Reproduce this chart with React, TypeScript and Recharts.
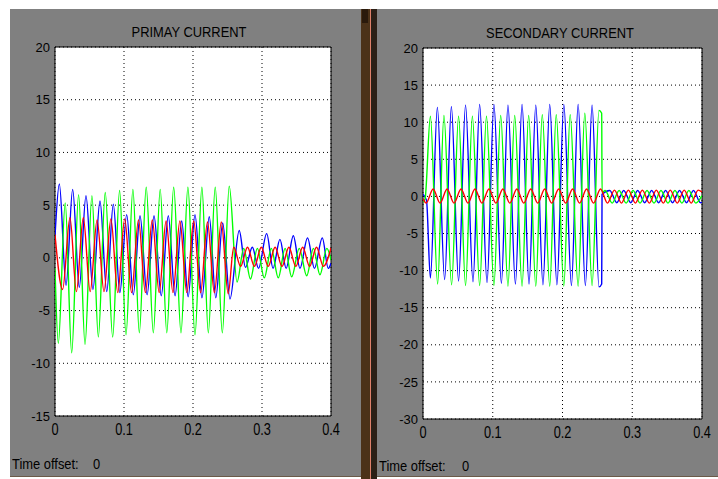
import { LineChart, Line, XAxis, YAxis, CartesianGrid, ReferenceArea } from 'recharts'

type Pt = [number, number]

const FONT = '"Liberation Sans", Arial, sans-serif'

const TIME_TICKS = [0, 0.1, 0.2, 0.3, 0.4]
const PRI_TICKS = [-15, -10, -5, 0, 5, 10, 15, 20]
const SEC_TICKS = [-30, -25, -20, -15, -10, -5, 0, 5, 10, 15, 20]

// primary current, [time, value] at the peaks / troughs
const PRI_BLUE: Pt[] = [
  [0, 2.0], [0.0063, 7.0], [0.016, -2.6], [0.0256, 6.5], [0.0352, -2.8], [0.0449, 5.9], [0.055, -3.0],
  [0.0652, 5.4], [0.075, -3.2], [0.0845, 5.1], [0.094, -3.3], [0.1039, 4.1], [0.1135, -3.5], [0.1232, 4.0],
  [0.1335, -3.5], [0.1435, 4.0], [0.154, -3.6], [0.1642, 4.0], [0.174, -3.6], [0.1836, 3.5], [0.193, -3.7],
  [0.2029, 4.1], [0.213, -3.8], [0.2236, 3.9], [0.233, -3.8], [0.243, 3.3], [0.2536, -3.9], [0.267, 2.6],
  [0.276, -0.9], [0.286, 1.0], [0.295, -1.0], [0.3068, 2.3], [0.316, -1.0], [0.326, 1.75], [0.335, -1.0],
  [0.3454, 2.1], [0.355, -1.0], [0.366, 1.9], [0.376, -1.0], [0.3874, 1.9], [0.396, -1.0], [0.4, -0.5],
]

const PRI_GREEN: Pt[] = [
  [0, -1.0], [0.0048, -8.1], [0.0148, 5.2], [0.0242, -9.0], [0.0342, 6.0], [0.0435, -8.2], [0.0535, 5.9],
  [0.0628, -7.5], [0.0728, 6.2], [0.0836, -7.5], [0.0936, 6.4], [0.1029, -7.3], [0.1129, 6.5], [0.1222, -7.1],
  [0.1322, 6.7], [0.1425, -7.1], [0.1525, 6.5], [0.162, -7.1], [0.172, 6.7], [0.1826, -7.1], [0.1926, 6.7],
  [0.2029, -7.3], [0.2129, 6.7], [0.2222, -7.1], [0.2322, 6.7], [0.2425, -7.1], [0.2525, 6.8], [0.2638, -2.3],
  [0.2735, 0.9], [0.2833, -2.0], [0.2933, 0.9], [0.3033, -1.9], [0.3135, 0.9], [0.3236, -1.9], [0.3335, 0.9],
  [0.343, -1.8], [0.354, 0.9], [0.3648, -1.7], [0.3745, 0.9], [0.384, -1.6], [0.394, 0.9], [0.4, -0.2],
]

const PRI_RED: Pt[] = [
  [0, 2.2], [0.011, -3.0], [0.0217, 3.8], [0.031, -3.2], [0.041, 3.8], [0.051, -3.2], [0.061, 3.6],
  [0.071, -3.2], [0.081, 3.7], [0.091, -3.3], [0.101, 3.7], [0.111, -3.3], [0.121, 3.6], [0.131, -3.3],
  [0.141, 3.6], [0.151, -3.3], [0.161, 3.5], [0.171, -3.3], [0.181, 3.5], [0.191, -3.3], [0.201, 3.5],
  [0.211, -3.3], [0.221, 3.4], [0.231, -3.3], [0.241, 3.4], [0.251, -3.4], [0.259, 1.0], [0.269, -0.8],
  [0.279, 1.0], [0.289, -0.8], [0.299, 1.0], [0.309, -0.8], [0.319, 1.0], [0.329, -0.8], [0.339, 1.0],
  [0.349, -0.8], [0.359, 1.0], [0.369, -0.8], [0.379, 1.0], [0.389, -0.8], [0.4, 0.95],
]

// secondary current
const SEC_BLUE: Pt[] = [
  [0, 0.3], [0.005, -0.5], [0.0106, -11.0], [0.0206, 12.0], [0.031, -11.2], [0.0407, 12.1], [0.051, -11.4],
  [0.061, 12.3], [0.0717, -11.5], [0.0812, 12.4], [0.0918, -11.6], [0.1017, 12.4], [0.1124, -11.7],
  [0.1218, 12.3], [0.1325, -11.8], [0.142, 12.4], [0.152, -11.8], [0.1617, 12.3], [0.172, -11.9],
  [0.1817, 12.4], [0.192, -11.9], [0.2019, 12.4], [0.2128, -12.0], [0.2224, 12.4], [0.2328, -12.0],
  [0.2424, 12.3], [0.2523, -12.2], [0.2562, -11.8], [0.2567, 0.3], [0.2678, 0.8], [0.2778, -0.85],
  [0.2878, 0.8], [0.2978, -0.85], [0.3078, 0.8], [0.3178, -0.85], [0.3278, 0.8], [0.3378, -0.85],
  [0.3478, 0.8], [0.3578, -0.85], [0.3678, 0.8], [0.3778, -0.85], [0.3878, 0.8], [0.3978, -0.85], [0.4, -0.8],
]

const SEC_GREEN: Pt[] = [
  [0, -0.8], [0.003, -0.3], [0.0106, 10.8], [0.021, -11.8], [0.03, 10.9], [0.041, -11.9], [0.051, 10.8],
  [0.061, -12.0], [0.0708, 10.8], [0.0812, -12.0], [0.091, 10.8], [0.1017, -12.0], [0.1114, 10.9],
  [0.1218, -12.1], [0.1315, 10.9], [0.142, -12.1], [0.1515, 10.9], [0.1617, -12.1], [0.171, 11.0],
  [0.1817, -12.1], [0.191, 11.0], [0.2019, -12.1], [0.211, 11.0], [0.2224, -12.1], [0.232, 11.2],
  [0.2424, -12.0], [0.2523, 11.6], [0.2562, 11.2], [0.2567, 0.5], [0.2612, 0.8], [0.2712, -0.9],
  [0.2812, 0.8], [0.2912, -0.9], [0.3012, 0.8], [0.3112, -0.9], [0.3212, 0.8], [0.3312, -0.9],
  [0.3412, 0.8], [0.3512, -0.9], [0.3612, 0.8], [0.3712, -0.9], [0.3812, 0.8], [0.3912, -0.9], [0.4, 0.1],
]

const SEC_RED: Pt[] = [
  [0, -0.3], [0.0045, -0.9], [0.0145, 1.0], [0.0245, -0.9], [0.0345, 1.0], [0.0445, -0.9], [0.0545, 1.0],
  [0.0645, -0.9], [0.0745, 1.0], [0.0845, -0.9], [0.0945, 1.0], [0.1045, -0.9], [0.1145, 1.0], [0.1245, -0.9],
  [0.1345, 1.0], [0.1445, -0.9], [0.1545, 1.0], [0.1645, -0.9], [0.1745, 1.0], [0.1845, -0.9], [0.1945, 1.0],
  [0.2045, -0.9], [0.2145, 1.0], [0.2245, -0.9], [0.2345, 1.0], [0.2445, -0.9], [0.2545, 1.0], [0.2645, -0.9],
  [0.2745, 0.85], [0.2845, -0.9], [0.2945, 0.85], [0.3045, -0.9], [0.3145, 0.85], [0.3245, -0.9],
  [0.3345, 0.85], [0.3445, -0.9], [0.3545, 0.85], [0.3645, -0.9], [0.3745, 0.85], [0.3845, -0.9],
  [0.3945, 0.85], [0.4, 0.6],
]

const toPts = (a: Pt[]) => a.map(([t, v]) => ({ t, v }))

function XTick({ x, y, payload }: any) {
  return (
    <text
      transform={`translate(${x},${y + 19}) scale(0.75,1)`}
      textAnchor="middle"
      fontSize={17}
      fontFamily={FONT}
      fill="#000"
    >
      {payload.value}
    </text>
  )
}

interface ScopeProps {
  left: number
  width: number
  ticks: number[]
  margin: { top: number; right: number; bottom: number; left: number }
  blue: Pt[]
  green: Pt[]
  red: Pt[]
}

function Scope({ left, width, ticks, margin, blue, green, red }: ScopeProps) {
  const yMin = ticks[0]
  const yMax = ticks[ticks.length - 1]
  const series = [
    { pts: blue, color: '#0000ff' },
    { pts: green, color: '#00ff00' },
    { pts: red, color: '#ff0000' },
  ]
  return (
    <div style={{ position: 'absolute', left, top: 0 }}>
      <LineChart width={width} height={477} margin={margin}>
        <CartesianGrid fill="#ffffff" stroke="#000" strokeDasharray="1 3" />
        <XAxis
          type="number"
          dataKey="t"
          domain={[0, 0.4]}
          ticks={TIME_TICKS}
          interval={0}
          tick={<XTick />}
          tickSize={0}
          tickMargin={0}
          axisLine={false}
          height={30}
          allowDataOverflow
        />
        <YAxis
          type="number"
          domain={[yMin, yMax]}
          ticks={ticks}
          interval={0}
          tickSize={0}
          tickMargin={5}
          axisLine={false}
          width={40}
          tick={{ fontSize: 13, fill: '#000', fontFamily: FONT }}
          allowDataOverflow
        />
        {series.map((s, i) => (
          <Line
            key={i}
            data={toPts(s.pts)}
            dataKey="v"
            type="monotone"
            stroke={s.color}
            strokeWidth={1.4}
            dot={false}
            activeDot={false}
            isAnimationActive={false}
          />
        ))}
        <ReferenceArea x1={0} x2={0.4} y1={yMin} y2={yMax} fill="none" stroke="#000" strokeWidth={1} />
      </LineChart>
    </div>
  )
}

const label = (x: number, y: number, text: string, center = false) => (
  <div
    style={{
      position: 'absolute',
      left: x,
      top: y,
      fontFamily: FONT,
      fontSize: 15,
      lineHeight: '15px',
      color: '#000',
      whiteSpace: 'nowrap',
      transform: center ? 'translateX(-50%) scaleX(0.86)' : 'scaleX(0.86)',
      transformOrigin: center ? 'center' : 'left',
    }}
  >
    {text}
  </div>
)

export default function App() {
  return (
    <div style={{ position: 'absolute', left: 0, top: 0, width: 718, height: 479, background: '#fff', overflow: 'hidden' }}>
      {/* scope panels */}
      <div style={{ position: 'absolute', left: 10, top: 9, width: 351, height: 467, background: '#808080', borderBottom: '1px solid #6b5a48' }} />
      <div style={{ position: 'absolute', left: 377, top: 9, width: 341, height: 467, background: '#808080', borderBottom: '1px solid #6b5a48' }} />
      {/* window divider */}
      <div style={{ position: 'absolute', left: 361, top: 9, width: 9, height: 470, background: '#4b3219' }} />
      <div style={{ position: 'absolute', left: 362, top: 9, width: 6, height: 14, background: '#2a1a0c' }} />
      <div style={{ position: 'absolute', left: 370, top: 9, width: 1, height: 470, background: '#e0806a' }} />
      <div style={{ position: 'absolute', left: 371, top: 9, width: 6, height: 470, background: '#2c2016' }} />

      <Scope
        left={0}
        width={361}
        ticks={PRI_TICKS}
        margin={{ top: 47, right: 30, bottom: 31, left: 15 }}
        blue={PRI_BLUE}
        green={PRI_GREEN}
        red={PRI_RED}
      />
      <Scope
        left={377}
        width={341}
        ticks={SEC_TICKS}
        margin={{ top: 48, right: 16, bottom: 28, left: 6 }}
        blue={SEC_BLUE}
        green={SEC_GREEN}
        red={SEC_RED}
      />

      {label(189, 24, 'PRIMAY CURRENT', true)}
      {label(560, 25, 'SECONDARY CURRENT', true)}
      {label(12, 456, 'Time offset:')}
      {label(93, 456, '0')}
      {label(379, 458, 'Time offset:')}
      {label(462, 458, '0')}
    </div>
  )
}
